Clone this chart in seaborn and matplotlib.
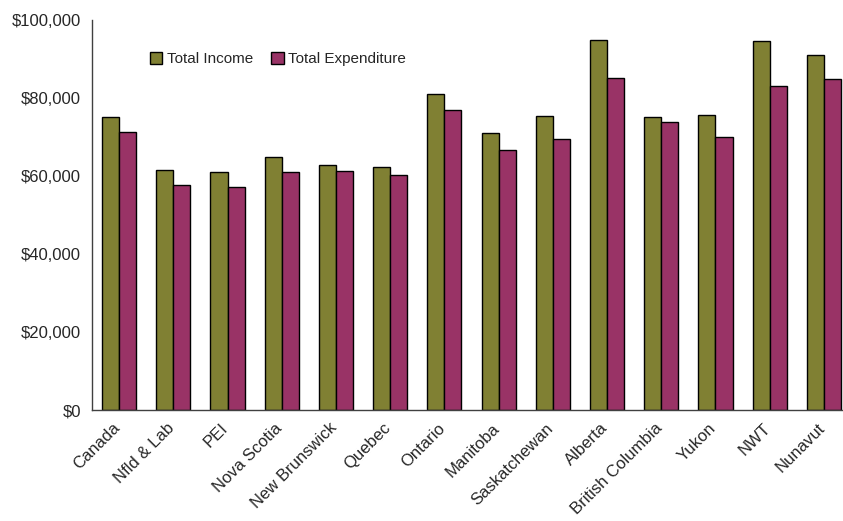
import pandas as pd
import numpy as np
import matplotlib.pyplot as plt
import matplotlib.transforms as mtransforms
import seaborn as sns
from matplotlib.ticker import FuncFormatter

sns.set_style("white")
plt.rcParams['font.family'] = ['Liberation Sans', 'DejaVu Sans']

# Data
regions = ['Canada', 'Nfld & Lab', 'PEI', 'Nova Scotia', 'New Brunswick', 'Quebec',
           'Ontario', 'Manitoba', 'Saskatchewan', 'Alberta', 'British Columbia',
           'Yukon', 'NWT', 'Nunavut']
total_income = [75200, 61500, 60900, 64900, 62800, 62200, 81100, 70900, 75400,
                94800, 75200, 75600, 94500, 91000]
total_expenditure = [71300, 57800, 57100, 61100, 61400, 60300, 76800, 66700, 69600,
                     85200, 73800, 70100, 83200, 84800]
series = ['Total Income', 'Total Expenditure']
colors = ['#808033', '#993366']

df = pd.DataFrame({'Region': regions * 2,
                   'Series': [series[0]] * len(regions) + [series[1]] * len(regions),
                   'Value': total_income + total_expenditure})

fig = plt.figure(figsize=(8.43, 5.21), dpi=100)
ax = fig.add_axes([92 / 843, 111 / 521, 759 / 843, 390 / 521])

sns.barplot(ax=ax, data=df, x='Region', y='Value', hue='Series', palette=colors,
            width=0.63, edgecolor='black', linewidth=1, saturation=1)

ax.set_xlim(-0.5, len(regions) - 0.5)
ax.set_ylim(0, 100000)
ax.set_yticks(np.arange(0, 100001, 20000))
ax.yaxis.set_major_formatter(FuncFormatter(lambda v, p: '${:,.0f}'.format(v)))
ax.tick_params(axis='y', labelsize=12, length=0, pad=8)
ax.tick_params(axis='x', labelsize=12, length=0, pad=6)
shift = mtransforms.ScaledTranslation(-7 / 100, -2 / 100, fig.dpi_scale_trans)
for lbl in ax.get_xticklabels():
    lbl.set_rotation(45)
    lbl.set_ha('right')
    lbl.set_rotation_mode('anchor')
    lbl.set_transform(lbl.get_transform() + shift)
ax.set_xlabel('')
ax.set_ylabel('')

sns.despine(ax=ax)
for s in ['left', 'bottom']:
    ax.spines[s].set_color('#404040')
    ax.spines[s].set_linewidth(1)

ax.legend(loc='upper left', bbox_to_anchor=(150 / 843, 1 - 52 / 521),
          bbox_transform=fig.transFigure, ncol=2, frameon=False, fontsize=11,
          handlelength=0.8, handleheight=0.8, handletextpad=0.3,
          columnspacing=1.2, borderpad=0, borderaxespad=0)

fig.savefig('out.png', dpi=100)
